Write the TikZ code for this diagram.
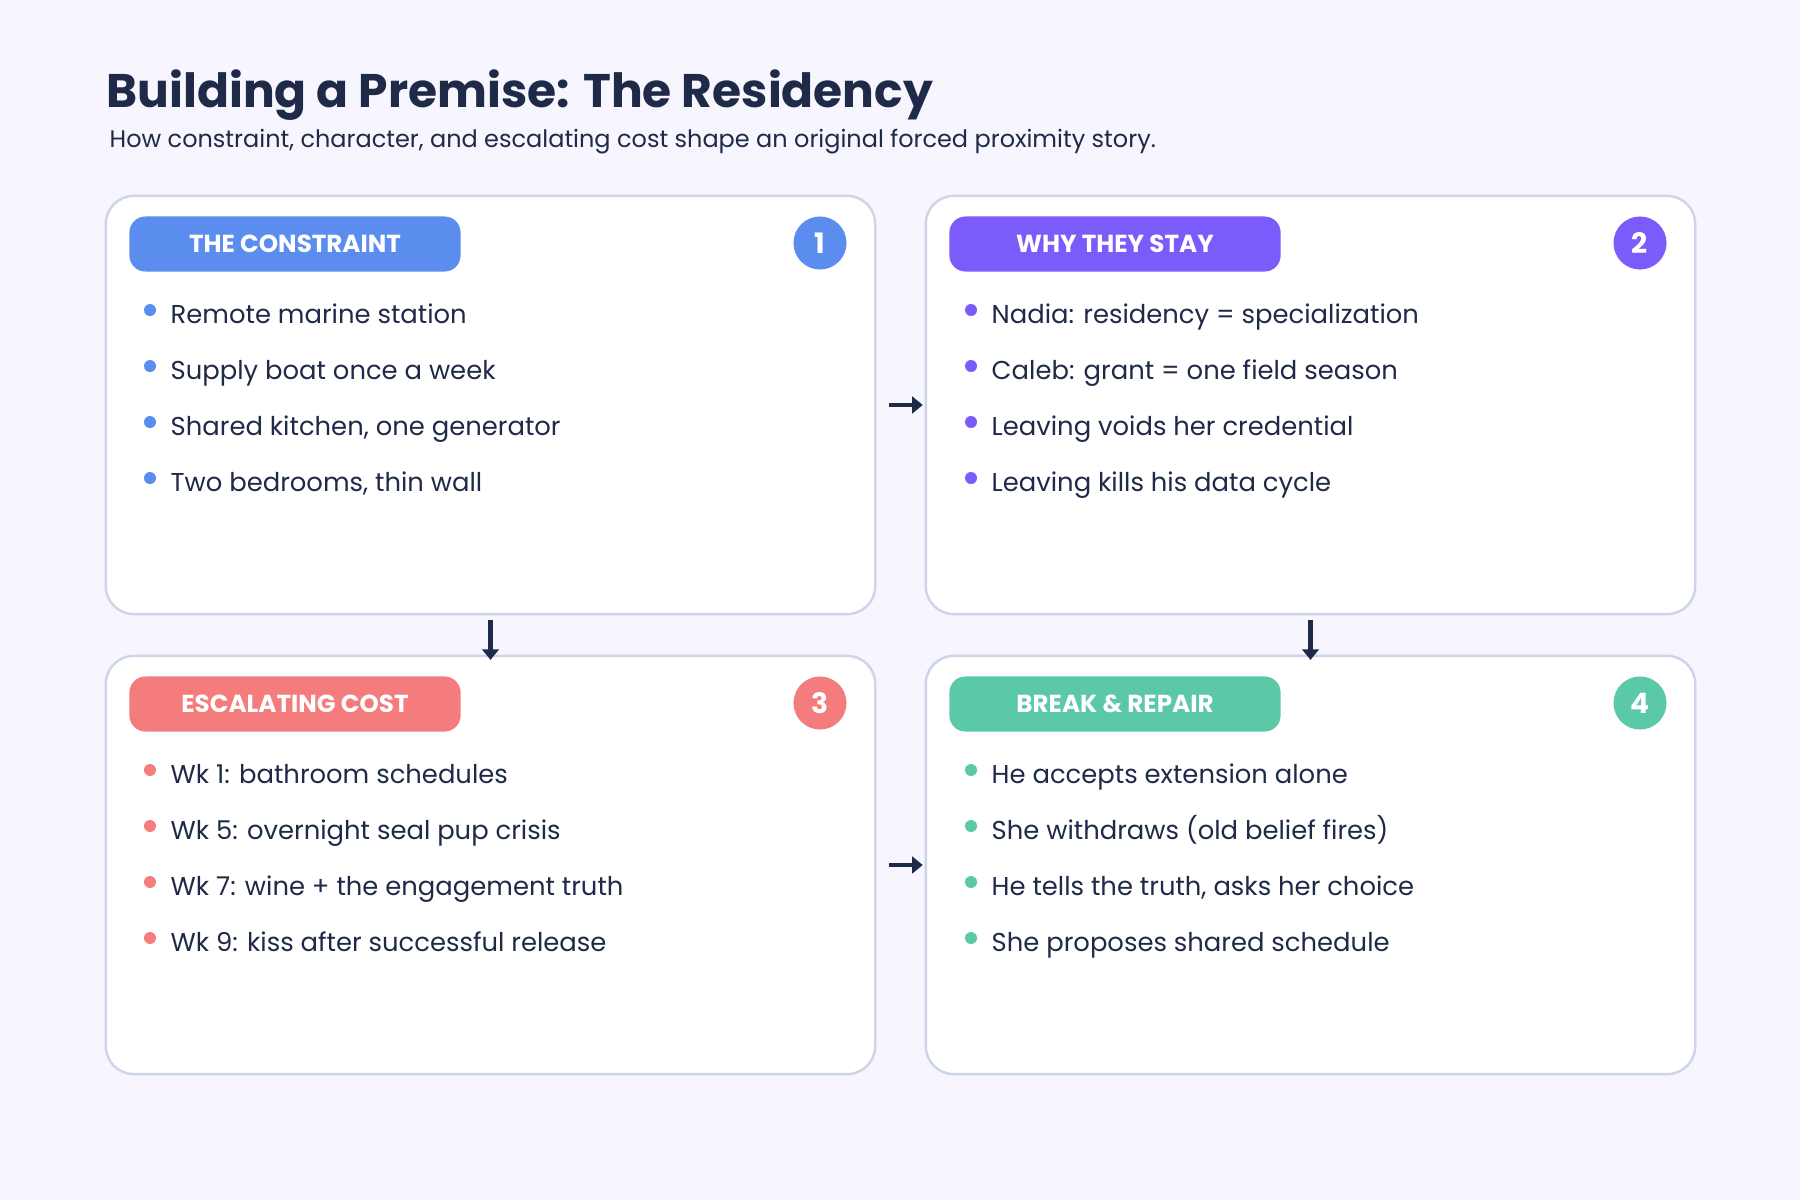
\documentclass[tikz,border=0pt]{standalone}
\usepackage{fontspec}
\setmainfont{Poppins}
\usetikzlibrary{positioning,arrows.meta}

\definecolor{pagebg}{HTML}{F7F5FE}
\definecolor{ink}{HTML}{1E2A47}
\definecolor{rim}{HTML}{CDD5E8}
\definecolor{cblue}{HTML}{5B8DEF}
\definecolor{cpurple}{HTML}{7B5CFA}
\definecolor{ccoral}{HTML}{F47C7C}
\definecolor{cteal}{HTML}{5BC8A8}

\begin{document}
\begin{tikzpicture}[x=0.01cm, y=-0.01cm,
  panel/.style={draw=rim, line width=0.7pt, fill=white, rounded corners=0.28cm,
    minimum width=7.69cm, minimum height=4.18cm, inner sep=0pt, outer sep=0pt},
  tag/.style={rounded corners=0.16cm, minimum width=3.31cm, minimum height=0.55cm,
    inner sep=0pt, text=white, font=\fontsize{7}{8}\selectfont\bfseries},
  badge/.style={circle, minimum size=0.53cm, inner sep=0pt, text=white,
    font=\fontsize{8}{9}\selectfont\bfseries},
  item/.style={anchor=base west, inner sep=0pt, text=ink,
    font=\fontsize{7.35}{9}\selectfont},
  dot/.style={circle, minimum size=0.12cm, inner sep=0pt},
  flow/.style={-{Triangle[length=3pt,width=4.7pt]}, line width=1.4pt, draw=ink}]

  \useasboundingbox (0,0) rectangle (1800,1200);
  \fill[pagebg] (0,0) rectangle (1800,1200);

  % heading
  \node[anchor=base west, inner sep=0pt, text=ink, font=\fontsize{13.4}{16}\selectfont\bfseries]
    (title) at (106,107) {Building a Premise: The Residency};
  \node[anchor=base west, inner sep=0pt, text=ink, font=\fontsize{6.82}{8}\selectfont]
    (subtitle) at (109,147) {How constraint, character, and escalating cost shape an original forced proximity story.};

  % panels
  \node[panel] (p1) at (490.5,405) {};
  \node[panel] (p2) at (1310.5,405) {};
  \node[panel] (p3) at (490.5,865) {};
  \node[panel] (p4) at (1310.5,865) {};

  \node[tag, fill=cblue] (t1) at (295,244) {THE CONSTRAINT};
  \node[tag, fill=cpurple] (t2) at (1115,244) {WHY THEY STAY};
  \node[tag, fill=ccoral] (t3) at (295,704) {ESCALATING COST};
  \node[tag, fill=cteal] (t4) at (1115,704) {BREAK \& REPAIR};

  \node[badge, fill=cblue] (n1) at (820,243) {1};
  \node[badge, fill=cpurple] (n2) at (1640,243) {2};
  \node[badge, fill=ccoral] (n3) at (820,703) {3};
  \node[badge, fill=cteal] (n4) at (1640,703) {4};

  % panel 1
  \node[dot, fill=cblue] (d11) at (150,310) {};
  \node[item] (b11) at (170,323) {Remote marine station};
  \node[dot, fill=cblue] (d12) at (150,366) {};
  \node[item] (b12) at (170,379) {Supply boat once a week};
  \node[dot, fill=cblue] (d13) at (150,422) {};
  \node[item] (b13) at (170,435) {Shared kitchen, one generator};
  \node[dot, fill=cblue] (d14) at (150,478) {};
  \node[item] (b14) at (170,491) {Two bedrooms, thin wall};

  % panel 2
  \node[dot, fill=cpurple] (d21) at (971,310) {};
  \node[item] (b21) at (991,323) {Nadia: residency = specialization};
  \node[dot, fill=cpurple] (d22) at (971,366) {};
  \node[item] (b22) at (991,379) {Caleb: grant = one field season};
  \node[dot, fill=cpurple] (d23) at (971,422) {};
  \node[item] (b23) at (991,435) {Leaving voids her credential};
  \node[dot, fill=cpurple] (d24) at (971,478) {};
  \node[item] (b24) at (991,491) {Leaving kills his data cycle};

  % panel 3
  \node[dot, fill=ccoral] (d31) at (150,770) {};
  \node[item] (b31) at (170,783) {Wk 1: bathroom schedules};
  \node[dot, fill=ccoral] (d32) at (150,826) {};
  \node[item] (b32) at (170,839) {Wk 5: overnight seal pup crisis};
  \node[dot, fill=ccoral] (d33) at (150,882) {};
  \node[item] (b33) at (170,895) {Wk 7: wine + the engagement truth};
  \node[dot, fill=ccoral] (d34) at (150,938) {};
  \node[item] (b34) at (170,951) {Wk 9: kiss after successful release};

  % panel 4
  \node[dot, fill=cteal] (d41) at (971,770) {};
  \node[item] (b41) at (991,783) {He accepts extension alone};
  \node[dot, fill=cteal] (d42) at (971,826) {};
  \node[item] (b42) at (991,839) {She withdraws (old belief fires)};
  \node[dot, fill=cteal] (d43) at (971,882) {};
  \node[item] (b43) at (991,895) {He tells the truth, asks her choice};
  \node[dot, fill=cteal] (d44) at (971,938) {};
  \node[item] (b44) at (991,951) {She proposes shared schedule};

  \draw[flow, shorten <=0.14cm, shorten >=0.03cm] (p1) -- (p2);
  \draw[flow, shorten <=0.14cm, shorten >=0.03cm] (p3) -- (p4);
  \draw[flow, shorten <=0.06cm, shorten >=-0.04cm] (p1) -- (p3);
  \draw[flow, shorten <=0.06cm, shorten >=-0.04cm] (p2) -- (p4);
\end{tikzpicture}
\end{document}
